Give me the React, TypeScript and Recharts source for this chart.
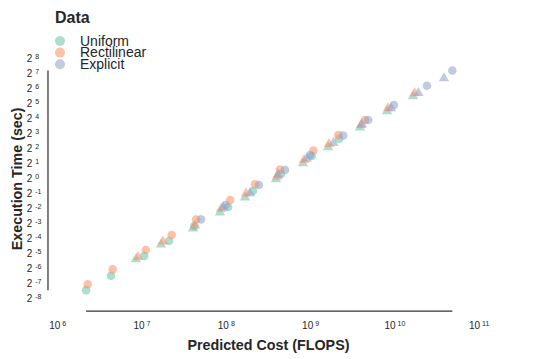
import {
  ScatterChart,
  Scatter,
  XAxis,
  YAxis,
  ReferenceLine,
  Legend,
} from "recharts";

// predicted cost (FLOPS), execution time (sec)
const uniformCircles = [
  [2.17e6, 0.00537],
  [4.29e6, 0.01045],
  [1.06e7, 0.0261],
  [2.09e7, 0.0522],
  [4.17e7, 0.1051],
  [1.05e8, 0.2535],
  [2.07e8, 0.532],
  [4.46e8, 1.165],
  [1.03e9, 2.69],
  [2.17e9, 5.94],
];
const uniformTriangles = [
  [8.49e6, 0.02385],
  [1.68e7, 0.0477],
  [4.03e7, 0.1001],
  [8.41e7, 0.21],
  [1.67e8, 0.42],
  [3.89e8, 0.973],
  [8.13e8, 2.042],
  [1.61e9, 4.287],
  [3.85e9, 10.78],
  [8.07e9, 22.8],
  [1.64e10, 45.6],
];
const rectCircles = [
  [2.27e6, 0.00704],
  [4.49e6, 0.01408],
  [1.11e7, 0.0344],
  [2.25e7, 0.0689],
  [4.38e7, 0.1416],
  [1.11e8, 0.349],
  [2.19e8, 0.727],
  [4.34e8, 1.444],
  [1.08e9, 3.48],
  [2.13e9, 7.11],
  [4.42e9, 14.3],
];
const rectTriangles = [
  [8.97e6, 0.02665],
  [1.77e7, 0.0548],
  [4.26e7, 0.115],
  [8.65e7, 0.2466],
  [1.71e8, 0.507],
  [3.99e8, 1.117],
  [8.36e8, 2.395],
  [1.65e9, 5.03],
  [3.96e9, 12.1],
  [8.28e9, 26.2],
  [1.71e10, 52.4],
];
const explicitCircles = [
  [5.01e7, 0.1426],
  [9.79e7, 0.2775],
  [2.44e8, 0.702],
  [4.97e8, 1.404],
  [9.84e8, 2.81],
  [2.44e9, 6.96],
  [4.83e9, 14.3],
  [9.75e9, 28.6],
  [2.4e10, 70.0],
  [4.8e10, 142],
];
const explicitTriangles = [
  [9.18e7, 0.264],
  [1.91e8, 0.514],
  [4.1e8, 1.223],
  [9.0e8, 2.53],
  [1.87e9, 5.28],
  [4.07e9, 12.5],
  [9.0e9, 26.2],
  [1.9e10, 53.1],
  [3.82e10, 106],
];

const legendNames = ["Uniform", "Rectilinear", "Explicit"];
const colors = ["#66c2a5", "#fc8d62", "#8da0cb"];
const costExponents = [6, 7, 8, 9, 10, 11];
const timeExponents = [-8, -7, -6, -5, -4, -3, -2, -1, 0, 1, 2, 3, 4, 5, 6, 7, 8];

const FONT = "'Liberation Sans', Arial, Helvetica, sans-serif";
const INK = "#262626";
const ALPHA = 0.55;
// where the offset spines sit (outside the data range)
const SPINE_COST = 7.67e5;
const SPINE_TIME = 0.00203;

const toRows = (pts: number[][]) => pts.map(([cost, time]) => ({ cost, time }));

const allPts = [
  ...uniformCircles,
  ...uniformTriangles,
  ...rectCircles,
  ...rectTriangles,
  ...explicitCircles,
  ...explicitTriangles,
];
const minCost = Math.min(...allPts.map((p) => p[0]));
const maxCost = Math.max(...allPts.map((p) => p[0]));
const minTime = Math.min(...allPts.map((p) => p[1]));
const maxTime = Math.max(...allPts.map((p) => p[1]));

const dot = (color: string) => (p: any) =>
  <circle cx={p.cx} cy={p.cy} r={4.3} fill={color} fillOpacity={ALPHA} />;

const tri = (color: string) => (p: any) => (
  <polygon
    points={`${p.cx},${p.cy - 4.6} ${p.cx - 5.2},${p.cy + 4.4} ${p.cx + 5.2},${p.cy + 4.4}`}
    fill={color}
    fillOpacity={ALPHA}
  />
);

function CostTick({ x, y, payload }: any) {
  const e = Math.round(Math.log10(payload.value));
  return (
    <text x={x} y={y + 23.5} textAnchor="middle" fontFamily={FONT} fontSize={10} fill={INK}>
      10
      <tspan dx={2} dy={-3} fontSize={7}>
        {e}
      </tspan>
    </text>
  );
}

function TimeTick({ x, y, payload }: any) {
  const e = Math.round(Math.log2(payload.value));
  return (
    <text x={x - 23} y={y + 4.5} textAnchor="start" fontFamily={FONT} fontSize={10} fill={INK}>
      2
      <tspan dx={3} dy={-3} fontSize={7}>
        {e}
      </tspan>
    </text>
  );
}

function DataLegend() {
  return (
    <svg width={200} height={75} style={{ display: "block" }}>
      <text x={55} y={22.7} fontFamily={FONT} fontSize={16} fontWeight="bold" fill={INK}>
        Data
      </text>
      {legendNames.map((name, i) => (
        <g key={name}>
          <circle cx={60} cy={41 + i * 11.6} r={5} fill={colors[i]} fillOpacity={ALPHA} />
          <text x={80} y={45.8 + i * 11.6} fontFamily={FONT} fontSize={14} fill={INK}>
            {name}
          </text>
        </g>
      ))}
    </svg>
  );
}

export default function App() {
  return (
    <div style={{ position: "absolute", left: 0, top: 0, background: "#fff" }}>
      <ScatterChart
        width={539}
        height={359}
        margin={{ top: 57.75, right: 59.8, bottom: 32, left: 17.7 }}
      >
        <XAxis
          type="number"
          dataKey="cost"
          scale="log"
          domain={[1e6, 1e11]}
          allowDataOverflow
          ticks={costExponents.map((e) => 10 ** e)}
          interval={0}
          axisLine={false}
          tickLine={false}
          height={30}
          tick={<CostTick />}
          label={{
            value: "Predicted Cost (FLOPS)",
            content: ({ viewBox }: any) => (
              <text
                x={viewBox.x + viewBox.width / 2}
                y={viewBox.y + 53}
                textAnchor="middle"
                fontFamily={FONT}
                fontSize={14.3}
                fontWeight="bold"
                fill={INK}
              >
                Predicted Cost (FLOPS)
              </text>
            ),
          }}
        />
        <YAxis
          type="number"
          dataKey="time"
          scale="log"
          domain={[2 ** -8, 2 ** 8]}
          allowDataOverflow
          ticks={timeExponents.map((e) => 2 ** e)}
          interval={0}
          axisLine={false}
          tickLine={false}
          width={40}
          tick={<TimeTick />}
          label={{
            value: "Execution Time (sec)",
            content: ({ viewBox }: any) => {
              const cx = viewBox.x + 3.8;
              const cy = viewBox.y + viewBox.height / 2 + 1.5;
              return (
                <text
                  x={cx}
                  y={cy}
                  transform={`rotate(-90 ${cx} ${cy})`}
                  textAnchor="middle"
                  fontFamily={FONT}
                  fontSize={14.3}
                  fontWeight="bold"
                  fill={INK}
                >
                  Execution Time (sec)
                </text>
              );
            },
          }}
        />
        <ReferenceLine
          segment={[
            { x: SPINE_COST, y: minTime },
            { x: SPINE_COST, y: maxTime },
          ]}
          stroke="#333"
          strokeWidth={1.25}
          ifOverflow="visible"
        />
        <ReferenceLine
          segment={[
            { x: minCost, y: SPINE_TIME },
            { x: maxCost, y: SPINE_TIME },
          ]}
          stroke="#333"
          strokeWidth={1.25}
          ifOverflow="visible"
        />
        <Legend
          layout="horizontal"
          verticalAlign="middle"
          align="center"
          wrapperStyle={{ position: "absolute", top: 0, left: 0, width: 200, height: 75 }}
          content={() => <DataLegend />}
        />
        <Scatter data={toRows(uniformCircles)} shape={dot(colors[0])} isAnimationActive={false} />
        <Scatter data={toRows(uniformTriangles)} shape={tri(colors[0])} isAnimationActive={false} />
        <Scatter data={toRows(rectCircles)} shape={dot(colors[1])} isAnimationActive={false} />
        <Scatter data={toRows(rectTriangles)} shape={tri(colors[1])} isAnimationActive={false} />
        <Scatter data={toRows(explicitCircles)} shape={dot(colors[2])} isAnimationActive={false} />
        <Scatter data={toRows(explicitTriangles)} shape={tri(colors[2])} isAnimationActive={false} />
      </ScatterChart>
    </div>
  );
}
